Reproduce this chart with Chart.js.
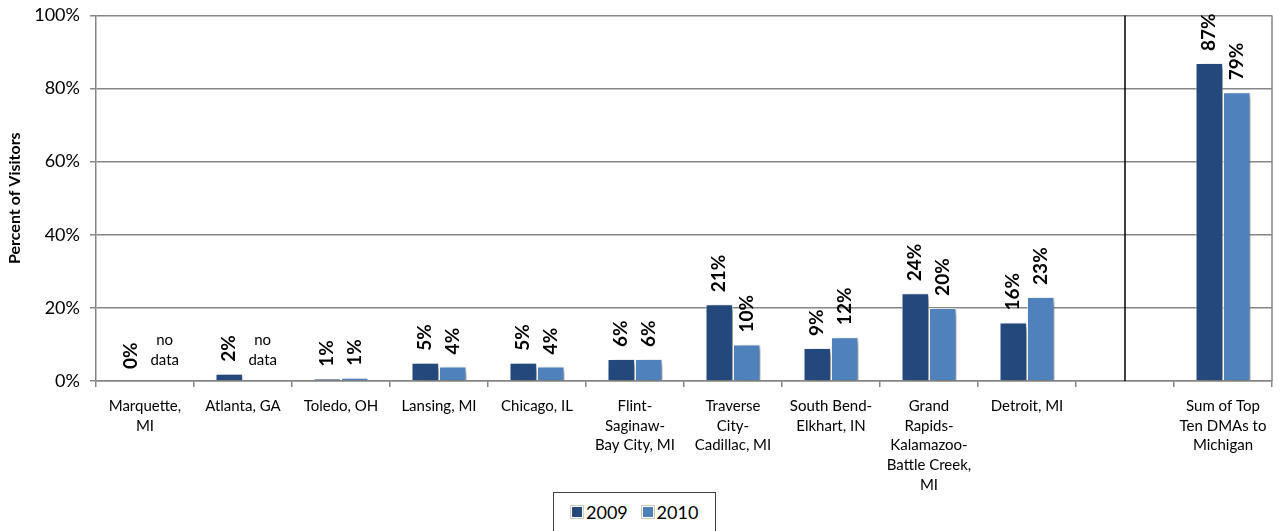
<!DOCTYPE html>
<html>
<head>
<meta charset="utf-8">
<script src="https://cdn.jsdelivr.net/npm/chart.js@4"></script>
<style>
  html, body { margin: 0; padding: 0; background: #fff; }
  #wrap { position: relative; width: 1280px; height: 531px; }
  #legend {
    position: absolute; left: 553px; top: 492px; width: 163px; height: 45px;
    border: 1px solid #404040; box-sizing: border-box; background: #fff;
    font-family: Lato, sans-serif; font-size: 18px; color: #000;
    padding: 8px 0 0 17px; white-space: nowrap;
  }
  #legend span.sw { display: inline-block; width: 10px; height: 10px; margin-right: 3px; vertical-align: 1px; border: 1px solid #fff; box-shadow: 0 0 0 1px #ccc; }
</style>
</head>
<body>
<div id="wrap">
  <canvas id="dma" width="1280" height="531"></canvas>
  <div id="legend"></div>
</div>
<script>
var categories = [["Marquette,", "MI"], "Atlanta, GA", "Toledo, OH", "Lansing, MI", "Chicago, IL",
    ["Flint-", "Saginaw-", "Bay City, MI"], ["Traverse", "City-", "Cadillac, MI"], ["South Bend-", "Elkhart, IN"],
    ["Grand", "Rapids-", "Kalamazoo-", "Battle Creek,", "MI"], "Detroit, MI", "", ["Sum of Top", "Ten DMAs to", "Michigan"]];
var visitors2009 = [0, 2, 0.6, 5, 5, 6, 21, 9, 24, 16, null, 87];
var visitors2010 = [null, null, 0.9, 4, 4, 6, 10, 12, 20, 23, null, 79];
var noDataIdx = [0, 1]; // 2010 not reported
var yTicks = [0, 20, 40, 60, 80, 100];

var color2009 = '#23497c';
var color2010 = '#4f81bd';

var labelPlugin = {
    id: 'barLabels',
    beforeDatasetsDraw: function (chart) {
        var c = chart.ctx;
        c.save();
        c.shadowColor = 'rgba(0,0,0,0.45)';
        c.shadowBlur = 6;
        c.shadowOffsetX = 4;
        c.shadowOffsetY = 3;
    },
    afterDatasetsDraw: function (chart) {
        var c = chart.ctx;
        c.restore();
        c.save();
        c.fillStyle = '#000';
        chart.data.datasets.forEach(function (ds, di) {
            var meta = chart.getDatasetMeta(di);
            meta.data.forEach(function (bar, i) {
                var v = ds.data[i];
                if (v === null) {
                    if (di === 1 && noDataIdx.indexOf(i) >= 0) {
                        c.font = '15px Lato';
                        c.textAlign = 'center';
                        c.textBaseline = 'middle';
                        var base = chart.scales.y.getPixelForValue(0);
                        c.fillText('no', bar.x + 6, base - 41);
                        c.fillText('data', bar.x + 6, base - 21);
                    }
                    return;
                }
                c.save();
                c.translate(bar.x, bar.y - 12);
                c.rotate(-Math.PI / 2);
                c.font = 'bold 19px Lato';
                c.textAlign = 'left';
                c.textBaseline = 'middle';
                c.fillText(Math.round(v) + '%', 0, 0);
                c.restore();
            });
        });
        c.restore();
    },
    afterDraw: function (chart) {
        var c = chart.ctx, a = chart.chartArea;
        var xSplit = chart.scales.x.getPixelForValue(10);
        c.save();
        c.strokeStyle = '#000';
        c.lineWidth = 1.5;
        c.beginPath();
        c.moveTo(xSplit, a.top);
        c.lineTo(xSplit, a.bottom);
        c.stroke();
        c.strokeStyle = '#868686';
        c.lineWidth = 1.5;
        c.beginPath();
        c.moveTo(a.right, a.top);
        c.lineTo(a.right, a.bottom);
        c.stroke();
        c.restore();
    }
};

var ctx = document.getElementById('dma').getContext('2d');
var dmaChart = new Chart(ctx, {
    type: 'bar',
    data: {
        labels: categories,
        datasets: [{
            label: '2009',
            data: visitors2009,
            backgroundColor: color2009,
            borderColor: 'rgba(255,255,255,0.7)',
            borderWidth: 1
        }, {
            label: '2010',
            data: visitors2010,
            backgroundColor: color2010,
            borderColor: 'rgba(255,255,255,0.7)',
            borderWidth: 1
        }]
    },
    options: {
        responsive: false,
        animation: false,
        layout: { padding: { top: 6, right: 8, bottom: 27, left: 5 } },
        datasets: { bar: { categoryPercentage: 0.56, barPercentage: 1.0 } },
        plugins: {
            legend: { display: false },
            tooltip: { enabled: false }
        },
        scales: {
            x: {
                grid: { display: true, drawOnChartArea: false, drawTicks: true, tickLength: 6, color: '#868686', lineWidth: 1.5 },
                border: { color: '#868686', width: 1.5 },
                ticks: {
                    color: '#000', maxRotation: 0, autoSkip: false, padding: 9,
                    font: { family: 'Lato', size: 15, lineHeight: 1.32 }
                }
            },
            y: {
                min: 0, max: 100,
                afterBuildTicks: function (axis) { axis.ticks = yTicks.map(function (v) { return { value: v }; }); },
                grid: { color: '#868686', lineWidth: 1.5, tickLength: 6 },
                border: { color: '#868686', width: 1.5 },
                ticks: {
                    color: '#000', padding: 10,
                    font: { family: 'Lato', size: 18, lineHeight: 0.6 },
                    callback: function (v) { return v + '%'; }
                },
                title: {
                    display: true, text: 'Percent of Visitors', color: '#000',
                    font: { family: 'Lato', size: 16, weight: 'bold' }, padding: { top: 0, bottom: 0 }
                }
            }
        }
    },
    plugins: [labelPlugin]
});

document.getElementById('legend').innerHTML =
    '<span class="sw" style="background:' + color2009 + '"></span>2009&nbsp;&nbsp; ' +
    '<span class="sw" style="background:' + color2010 + '"></span>2010';
</script>
</body>
</html>
